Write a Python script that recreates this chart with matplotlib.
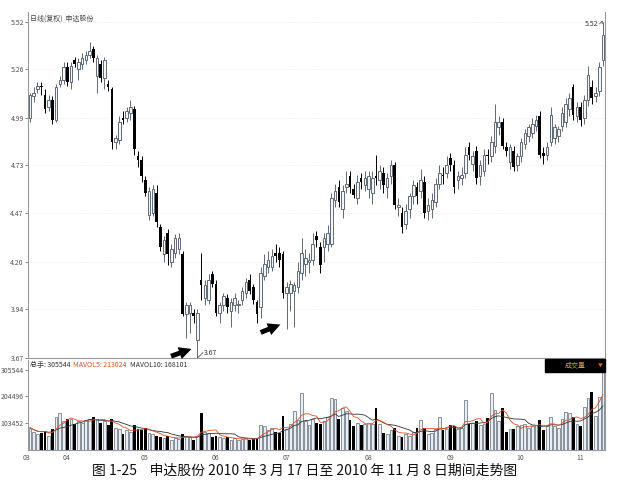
import numpy as np
import pandas as pd
import matplotlib.pyplot as plt
from matplotlib.patches import Rectangle

plt.rcParams['font.family'] = ['Noto Sans CJK SC', 'DejaVu Sans']

# daily OHLC, 2010-03-17 .. 2010-11-08
open_px = [4.99, 5.11, 5.15, 5.17, 5.12, 5.05, 5.09, 4.98, 5.18, 5.20, 5.27,
           5.19, 5.31, 5.26, 5.29, 5.31, 5.34, 5.37, 5.22, 5.29, 5.21, 5.18, 5.15, 4.86, 4.87, 4.99, 4.99, 5.02, 5.04, 4.78, 4.76, 4.65,
           4.46, 4.47, 4.58, 4.39, 4.24, 4.36, 4.20, 4.25, 4.27, 4.24, 3.91, 3.92, 3.92, 3.77, 4.10, 4.00, 3.99, 4.13, 4.08,
           3.92, 3.96, 4.00, 3.93, 3.96, 3.96, 3.99, 4.03, 4.10, 4.06, 3.98, 3.95, 4.12, 4.17, 4.17, 4.25, 4.25, 4.24, 4.03,
           4.03, 4.04, 4.06, 4.14, 4.19, 4.20, 4.21, 4.34, 4.28, 4.28, 4.30, 4.30, 4.54, 4.61, 4.49, 4.61, 4.67, 4.60, 4.55, 4.66, 4.62, 4.60,
           4.58, 4.67, 4.65, 4.69, 4.61, 4.67, 4.73, 4.50, 4.47, 4.41, 4.49, 4.56, 4.61, 4.59, 4.64, 4.48, 4.49, 4.53, 4.63, 4.68, 4.69, 4.77,
           4.73, 4.65, 4.66, 4.69, 4.83, 4.74, 4.81, 4.67, 4.70, 4.79, 4.78, 4.84, 4.94, 4.97, 4.83, 4.75, 4.81, 4.73, 4.78,
           4.85, 4.89, 4.91, 4.95, 5.00, 4.80, 4.79, 4.86, 4.88, 4.89, 4.95, 4.97, 5.04, 5.16, 5.00, 5.05,
           4.99, 5.09, 5.16, 5.11, 5.14, 5.31]
high_px = [5.13, 5.16, 5.19, 5.19, 5.15, 5.12, 5.11, 5.18, 5.22, 5.30, 5.30,
           5.30, 5.33, 5.32, 5.35, 5.36, 5.41, 5.39, 5.34, 5.31, 5.33, 5.20, 5.16, 4.90, 5.00, 5.03, 5.05, 5.09, 5.06, 4.81, 4.78, 4.67,
           4.61, 4.62, 4.62, 4.41, 4.34, 4.38, 4.30, 4.35, 4.36, 4.26, 3.98, 3.98, 3.94, 3.94, 4.25, 4.10, 4.13, 4.15, 4.10,
           3.98, 4.03, 4.02, 4.00, 4.03, 3.99, 4.06, 4.11, 4.13, 4.08, 3.99, 4.17, 4.24, 4.26, 4.27, 4.30, 4.28, 4.26, 4.09,
           4.10, 4.09, 4.20, 4.33, 4.27, 4.25, 4.36, 4.37, 4.31, 4.36, 4.40, 4.58, 4.63, 4.65, 4.62, 4.70, 4.70, 4.63, 4.68, 4.69, 4.70, 4.70,
           4.70, 4.79, 4.73, 4.72, 4.69, 4.76, 4.75, 4.55, 4.50, 4.52, 4.58, 4.65, 4.64, 4.71, 4.67, 4.55, 4.58, 4.66, 4.73, 4.72, 4.78, 4.80,
           4.76, 4.70, 4.72, 4.83, 4.86, 4.81, 4.84, 4.76, 4.82, 4.82, 4.89, 5.07, 5.00, 4.99, 4.86, 4.85, 4.84, 4.80, 4.88,
           4.93, 4.96, 4.99, 5.01, 5.03, 4.83, 4.86, 5.05, 4.96, 4.95, 5.05, 5.10, 5.13, 5.18, 5.08, 5.08,
           5.12, 5.28, 5.20, 5.16, 5.30, 5.52]
low_px = [4.97, 5.08, 5.13, 5.12, 5.02, 5.03, 4.96, 4.97, 5.16, 5.18, 5.17,
          5.15, 5.27, 5.20, 5.26, 5.29, 5.32, 5.30, 5.13, 5.19, 5.15, 5.14, 4.82, 4.82, 4.85, 4.96, 4.97, 4.98, 4.79, 4.72, 4.64, 4.56,
          4.43, 4.45, 4.39, 4.26, 4.20, 4.18, 4.17, 4.22, 4.24, 3.90, 3.78, 3.81, 3.86, 3.67, 3.99, 3.96, 3.97, 4.06, 3.90,
          3.86, 3.93, 3.92, 3.84, 3.93, 3.92, 3.96, 4.00, 4.02, 3.97, 3.86, 3.89, 4.10, 4.14, 4.15, 4.20, 4.17, 4.00, 3.83,
          3.93, 3.84, 4.03, 4.10, 4.12, 4.14, 4.18, 4.28, 4.14, 4.20, 4.26, 4.28, 4.50, 4.50, 4.44, 4.58, 4.58, 4.55, 4.52, 4.60, 4.59, 4.55,
          4.52, 4.62, 4.60, 4.58, 4.55, 4.63, 4.49, 4.45, 4.36, 4.38, 4.44, 4.52, 4.52, 4.55, 4.44, 4.43, 4.44, 4.50, 4.60, 4.63, 4.66, 4.70,
          4.58, 4.60, 4.62, 4.66, 4.76, 4.70, 4.63, 4.62, 4.67, 4.74, 4.75, 4.80, 4.90, 4.82, 4.78, 4.71, 4.70, 4.70, 4.75,
          4.82, 4.86, 4.88, 4.92, 4.77, 4.74, 4.76, 4.84, 4.85, 4.86, 4.92, 4.94, 5.00, 4.98, 4.97, 4.95,
          4.96, 5.06, 5.07, 5.08, 5.11, 5.28]
close_px = [5.12, 5.13, 5.17, 5.16, 5.04, 5.09, 4.98, 5.16, 5.20, 5.27, 5.19,
            5.28, 5.29, 5.30, 5.32, 5.34, 5.36, 5.32, 5.32, 5.21, 5.31, 5.16, 4.86, 4.88, 4.97, 4.98, 5.03, 5.05, 4.82, 4.76, 4.67, 4.58,
            4.59, 4.60, 4.42, 4.28, 4.32, 4.24, 4.27, 4.33, 4.33, 3.91, 3.96, 3.96, 3.90, 3.92, 4.07, 4.07, 4.10, 4.08, 3.92,
            3.96, 4.01, 3.95, 3.98, 4.00, 3.97, 4.04, 4.09, 4.04, 3.99, 3.91, 4.14, 4.19, 4.21, 4.23, 4.23, 4.21, 4.03, 4.06,
            4.08, 4.07, 4.15, 4.25, 4.22, 4.21, 4.30, 4.32, 4.18, 4.33, 4.36, 4.55, 4.59, 4.53, 4.59, 4.63, 4.61, 4.57, 4.64, 4.64, 4.66, 4.67,
            4.66, 4.66, 4.70, 4.62, 4.66, 4.73, 4.51, 4.51, 4.39, 4.48, 4.56, 4.62, 4.56, 4.65, 4.47, 4.51, 4.54, 4.63, 4.69, 4.67, 4.73, 4.73,
            4.61, 4.67, 4.68, 4.79, 4.79, 4.78, 4.66, 4.73, 4.79, 4.78, 4.86, 4.97, 4.97, 4.84, 4.81, 4.83, 4.72, 4.78, 4.86,
            4.91, 4.94, 4.96, 4.98, 4.79, 4.78, 4.83, 5.01, 4.94, 4.93, 5.02, 5.07, 5.10, 5.01, 5.05, 4.98,
            5.09, 5.23, 5.10, 5.13, 5.27, 5.45]
volume = [85000, 70000, 60000, 65000, 72000, 55000, 80000, 125000, 140000, 110000, 118000,
          120000, 100000, 110000, 105000, 115000, 120000, 125000, 118000, 105000, 112000, 95000, 118000, 85000, 80000, 60000, 75000, 70000, 95000, 80000, 75000, 85000,
          65000, 60000, 55000, 50000, 45000, 55000, 40000, 45000, 42000, 60000, 55000, 50000, 40000, 55000, 140000, 70000, 65000, 50000, 55000,
          50000, 45000, 48000, 40000, 45000, 38000, 42000, 45000, 40000, 42000, 45000, 95000, 90000, 75000, 85000, 70000, 65000, 130000, 80000,
          100000, 150000, 115000, 218000, 110000, 95000, 120000, 105000, 100000, 110000, 125000, 200000, 195000, 120000, 160000, 150000, 115000, 90000, 105000, 95000, 100000, 105000,
          100000, 160000, 100000, 65000, 60000, 75000, 85000, 55000, 50000, 60000, 55000, 70000, 85000, 115000, 84000, 60000, 65000, 80000, 126000, 75000, 80000, 96000,
          90000, 80000, 85000, 190000, 100000, 105000, 110000, 95000, 100000, 122000, 218000, 153000, 110000, 160000, 69000, 80000, 80000, 90000, 95000,
          100000, 85000, 90000, 95000, 115000, 75000, 90000, 126000, 90000, 85000, 120000, 145000, 140000, 126000, 100000, 90000,
          165000, 200000, 222000, 130000, 203000, 305544]

month_labels = ['03', '04', '05', '06', '07', '08', '09', '10', '11']
month_start = [0, 11, 32, 51, 70, 92, 114, 133, 149]
price_ticks = [3.67, 3.94, 4.20, 4.47, 4.73, 4.99, 5.26, 5.52]
vol_ticks = [103452, 204496, 305544]

o = np.array(open_px)
h = np.array(high_px)
l = np.array(low_px)
c = np.array(close_px)
v = np.array(volume, dtype=float)
x = np.arange(len(c))
up = c >= o

W, H = 619, 483
fig = plt.figure(figsize=(W / 100, H / 100), dpi=100)
ax = fig.add_axes([28 / W, 1 - 358 / H, 577 / W, 346 / H])
axv = fig.add_axes([28 / W, 1 - 450 / H, 577 / W, 90 / H])

edge = '#5e6a76'
# price candles
ax.vlines(x[up], l[up], h[up], color=edge, lw=0.7, zorder=2)
ax.vlines(x[~up], l[~up], h[~up], color='black', lw=0.7, zorder=2)
bottoms = np.minimum(o, c)
heights = np.maximum(np.abs(c - o), 0.008)
ax.bar(x[up], heights[up], bottom=bottoms[up], width=0.7,
       facecolor='#f4f6f8', edgecolor=edge, linewidth=0.7, zorder=3)
ax.bar(x[~up], heights[~up], bottom=bottoms[~up], width=0.7,
       color='black', zorder=3)

ax.set_xlim(-0.55, len(c) - 0.45)
ax.set_ylim(3.67, 3.67 + 346 * 1.85 / 336)
ax.set_yticks(price_ticks)
ax.set_yticklabels([f'{t:.2f}' for t in price_ticks])
ax.set_xticks([])
ax.tick_params(axis='y', labelsize=5, colors='#555555', length=2, width=0.5, pad=1)
ax.grid(axis='y', color='#e6e6e6', lw=0.5, ls=':')
ax.spines['top'].set_visible(False)
for s in ['left', 'right', 'bottom']:
    ax.spines[s].set_color('#999999')
    ax.spines[s].set_linewidth(0.8)

ax.text(0.004, 0.992, '日线(复权)  申达股份', transform=ax.transAxes,
        fontsize=5, color='#444444', va='top', ha='left')

# high / low marks
ax.plot([x[-1] - 0.9, x[-1] - 0.2, x[-1] - 0.2], [h[-1] - 0.01, h[-1] + 0.005, h[-1] - 0.01],
        color='#333333', lw=0.5, clip_on=False)
ax.text(x[-1] - 1.2, h[-1] - 0.01, '5.52', fontsize=5, color='#333333', ha='right', va='center')
lo_i = int(np.argmin(l))
ax.plot([lo_i, lo_i + 1.5], [l[lo_i], l[lo_i] + 0.03], color='#333333', lw=0.5, clip_on=False)
ax.text(lo_i + 1.8, l[lo_i] + 0.03, '3.67', fontsize=5, color='#333333', ha='left', va='center')

# hand-drawn arrows
arrow_style = dict(arrowstyle='simple,head_width=0.9,head_length=0.9,tail_width=0.35',
                   color='black', lw=0)
ax.annotate('', xy=(lo_i - 0.9, 3.725), xytext=(lo_i - 7.8, 3.675),
            arrowprops=arrow_style, annotation_clip=False)
ax.annotate('', xy=(68.0, 3.86), xytext=(61.3, 3.805),
            arrowprops=arrow_style, annotation_clip=False)

# volume
axv.bar(x[up], v[up], width=0.75, facecolor='#e8eef3', edgecolor=edge, linewidth=0.5, zorder=2)
axv.bar(x[~up], v[~up], width=0.75, color='black', zorder=2)
ma5 = pd.Series(v).rolling(5, min_periods=1).mean()
ma10 = pd.Series(v).rolling(10, min_periods=1).mean()
axv.plot(x, ma10, color='#333333', lw=0.6, zorder=3)
axv.plot(x, ma5, color='#e0502a', lw=0.6, zorder=3)
axv.set_xlim(ax.get_xlim())
axv.set_ylim(0, 90 * 305544 / 80)
axv.set_yticks(vol_ticks)
axv.set_yticklabels([str(t) for t in vol_ticks])
axv.set_xticks([])
axv.tick_params(axis='y', labelsize=5, colors='#555555', length=2, width=0.5, pad=1)
for s in ['left', 'right', 'bottom', 'top']:
    axv.spines[s].set_color('#999999')
    axv.spines[s].set_linewidth(0.8)
axv.spines['top'].set_visible(False)

for lab, st in zip(month_labels, month_start):
    axv.text(st - 1.1, -0.04, lab, transform=axv.get_xaxis_transform(),
             fontsize=5, color='#555555', ha='center', va='top', clip_on=False)

fig.text(30 / W, 1 - 365 / H, '总手: 305544', fontsize=5, color='#333333', va='center')
fig.text(73 / W, 1 - 365 / H, 'MAVOL5: 213024', fontsize=5, color='#e0502a', va='center')
fig.text(130 / W, 1 - 365 / H, 'MAVOL10: 168101', fontsize=5, color='#333333', va='center')
fig.patches.append(Rectangle((545 / W, 1 - 372 / H), 60 / W, 13 / H,
                             transform=fig.transFigure, color='black'))
fig.text(575 / W, 1 - 365.5 / H, '成交量', fontsize=5, color='#d4a41a', ha='center', va='center')
fig.text(600 / W, 1 - 365.5 / H, '▼', fontsize=3.5, color='#e0602a', ha='center', va='center')

fig.text(305 / W, 1 - 471 / H,
         '图 1-25    申达股份 2010 年 3 月 17 日至 2010 年 11 月 8 日期间走势图',
         fontsize=10, color='#111111', ha='center', va='center')

fig.savefig('out.png', dpi=100)
